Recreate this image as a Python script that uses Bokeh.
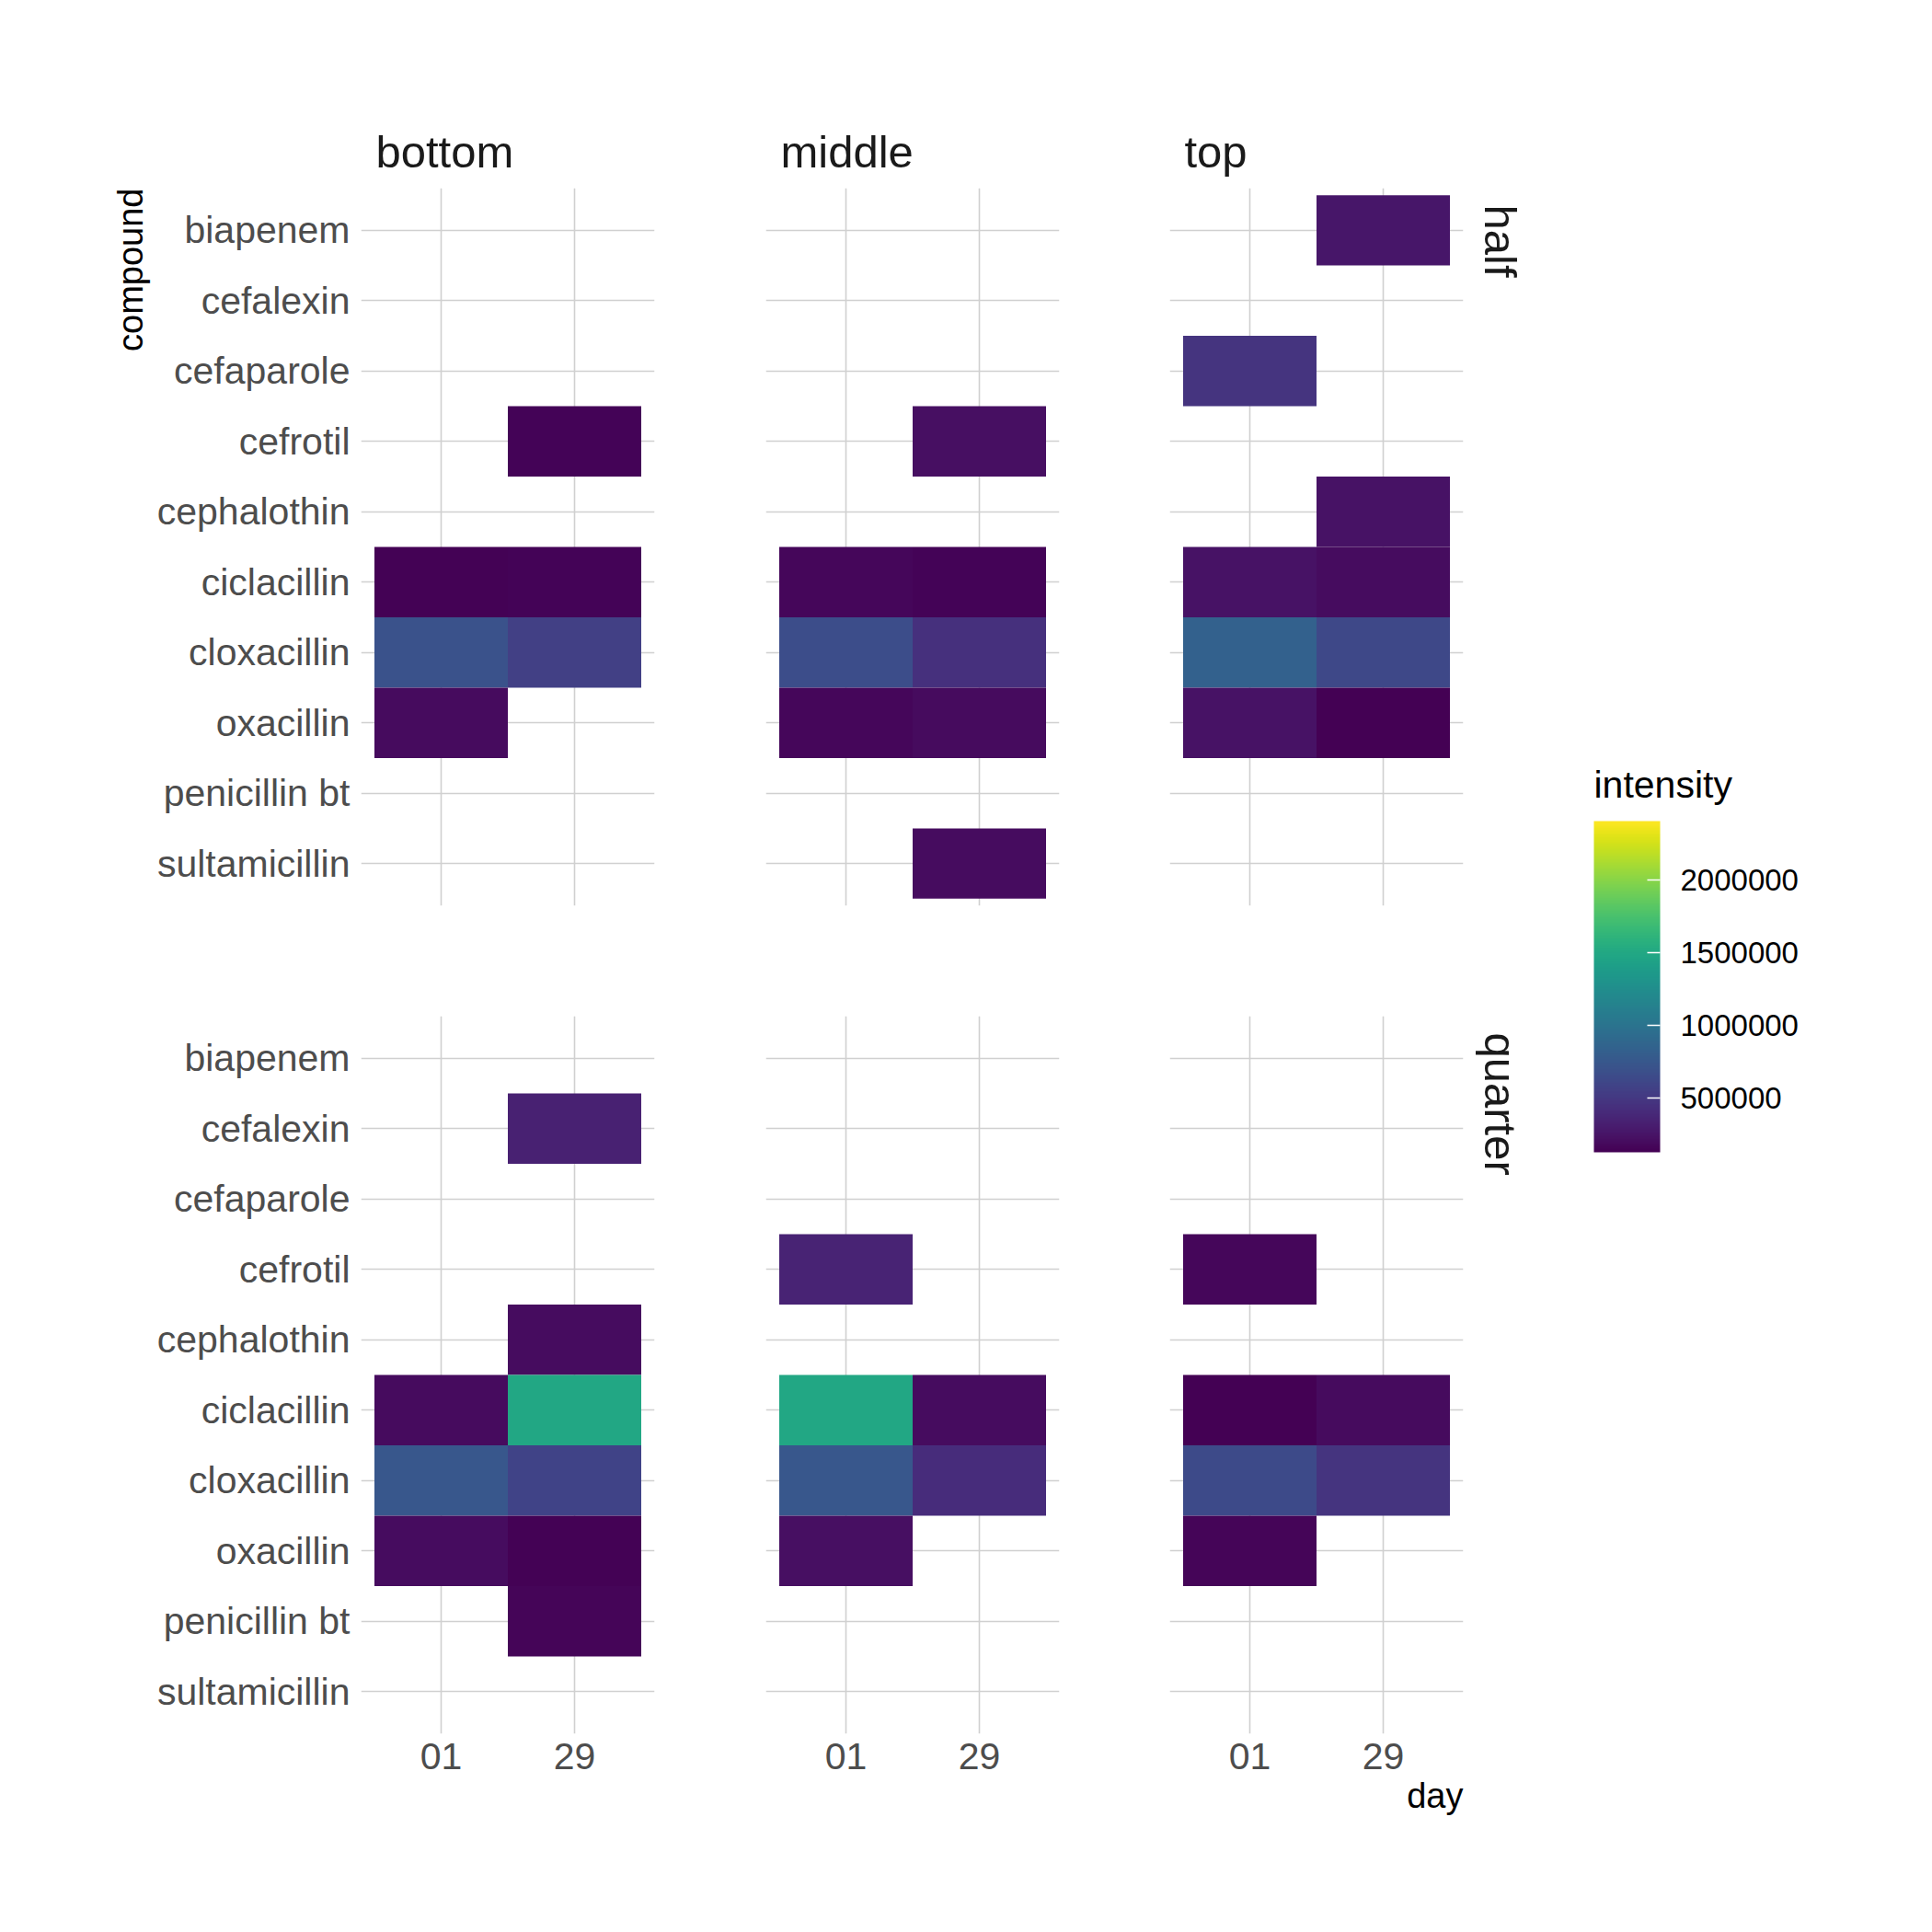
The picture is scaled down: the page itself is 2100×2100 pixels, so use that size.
from bokeh.plotting import figure
from bokeh.models import (ColumnDataSource, FactorRange, LinearColorMapper, ColorBar,
                          FixedTicker, PrintfTickFormatter, Title, Label)
from bokeh.layouts import row, column
from bokeh.palettes import Viridis256
from bokeh.embed import file_html
from bokeh.resources import INLINE

FONT = "Liberation Sans"

# ---------------- data ----------------
compounds = ["biapenem", "cefalexin", "cefaparole", "cefrotil", "cephalothin",
             "ciclacillin", "cloxacillin", "oxacillin", "penicillin bt", "sultamicillin"]
days = ["01", "29"]
positions = ["bottom", "middle", "top"]
fractions = ["half", "quarter"]

tile_fraction = (["half"] * 6 + ["half"] * 8 + ["half"] * 9 +
                 ["quarter"] * 9 + ["quarter"] * 6 + ["quarter"] * 6)
tile_position = (["bottom"] * 6 + ["middle"] * 8 + ["top"] * 9 +
                 ["bottom"] * 9 + ["middle"] * 6 + ["top"] * 6)
tile_compound = [
    # half / bottom
    "cefrotil", "ciclacillin", "ciclacillin", "cloxacillin", "cloxacillin", "oxacillin",
    # half / middle
    "cefrotil", "ciclacillin", "ciclacillin", "cloxacillin", "cloxacillin", "oxacillin", "oxacillin", "sultamicillin",
    # half / top
    "biapenem", "cefaparole", "cephalothin", "ciclacillin", "ciclacillin", "cloxacillin", "cloxacillin", "oxacillin", "oxacillin",
    # quarter / bottom
    "cefalexin", "cephalothin", "ciclacillin", "ciclacillin", "cloxacillin", "cloxacillin", "oxacillin", "oxacillin", "penicillin bt",
    # quarter / middle
    "cefrotil", "ciclacillin", "ciclacillin", "cloxacillin", "cloxacillin", "oxacillin",
    # quarter / top
    "cefrotil", "ciclacillin", "ciclacillin", "cloxacillin", "cloxacillin", "oxacillin",
]
tile_day = [
    "29", "01", "29", "01", "29", "01",
    "29", "01", "29", "01", "29", "01", "29", "29",
    "29", "01", "29", "01", "29", "01", "29", "01", "29",
    "29", "29", "01", "29", "01", "29", "01", "29", "29",
    "01", "01", "29", "01", "29", "01",
    "01", "01", "29", "01", "29", "01",
]
tile_intensity = [
    150000, 140000, 145000, 697000, 560000, 195000,
    218000, 170000, 150000, 662000, 446000, 170000, 195000, 205000,
    265000, 470000, 240000, 240000, 205000, 833000, 617000, 240000, 130000,
    335000, 205000, 195000, 1494000, 742000, 583000, 200000, 140000, 160000,
    355000, 1490000, 207000, 742000, 412000, 218000,
    170000, 127000, 195000, 640000, 468000, 160000,
]

int_low = 127000
int_high = 2405000
legend_ticks = [500000, 1000000, 1500000, 2000000]
legend_title = "intensity"

mapper = LinearColorMapper(palette=Viridis256, low=int_low, high=int_high)

# ---------------- layout geometry ----------------
FRAME_W, FRAME_H = 319, 780
col_borders = [(392, 60), (61, 60), (60, 110)]
row_borders = [(204, 60), (60, 216)]
GRID = "#D0D0D0"


def make_panel(fi, pi):
    lb, rb = col_borders[pi]
    tb, bb = row_borders[fi]
    p = figure(frame_width=FRAME_W, frame_height=FRAME_H,
               x_range=FactorRange(factors=days, range_padding=0.1, range_padding_units="absolute"),
               y_range=FactorRange(factors=compounds[::-1], range_padding=0.1, range_padding_units="absolute"),
               output_backend="svg", toolbar_location=None,
               min_border_left=lb, min_border_right=rb, min_border_top=tb, min_border_bottom=bb,
               background_fill_color="white", border_fill_color="white")
    p.outline_line_color = None

    mask = [i for i in range(len(tile_intensity))
            if tile_fraction[i] == fractions[fi] and tile_position[i] == positions[pi]]
    src = ColumnDataSource(dict(
        day=[tile_day[i] for i in mask],
        compound=[tile_compound[i] for i in mask],
        intensity=[tile_intensity[i] for i in mask],
    ))
    p.rect(x="day", y="compound", width=1, height=1, source=src,
           fill_color={"field": "intensity", "transform": mapper}, line_color=None)

    p.xgrid.grid_line_color = GRID
    p.ygrid.grid_line_color = GRID
    p.xgrid.grid_line_width = 1.6
    p.ygrid.grid_line_width = 1.6

    for ax in p.axis:
        ax.axis_line_color = None
        ax.major_tick_line_color = None
        ax.minor_tick_line_color = None
        ax.major_label_text_font = FONT
        ax.major_label_text_font_size = "41px"
        ax.major_label_text_color = "#4D4D4D"
    p.yaxis.major_label_standoff = 6
    p.xaxis.major_label_standoff = 4

    if pi != 0:
        p.yaxis.visible = False
    if fi != 1:
        p.xaxis.visible = False

    if fi == 0:
        p.title.text = positions[pi]
        p.title.align = "left"
        p.title.offset = 16
        p.title.standoff = 26
        p.title.text_font = FONT
        p.title.text_font_size = "49px"
        p.title.text_font_style = "normal"
        p.title.text_color = "#1A1A1A"
    else:
        p.title.text = ""

    if pi == 0 and fi == 0:
        p.add_layout(Title(text="compound", align="right", offset=0, standoff=10,
                           text_font=FONT, text_font_size="38px", text_font_style="normal",
                           text_color="black"), "left")
    if pi == 2:
        p.add_layout(Title(text=fractions[fi], align="left", offset=18, standoff=26,
                           text_font=FONT, text_font_size="49px", text_font_style="normal",
                           text_color="#1A1A1A"), "right")
    if pi == 2 and fi == 1:
        p.add_layout(Title(text="day", align="right", offset=0, standoff=6,
                           text_font=FONT, text_font_size="38px", text_font_style="normal",
                           text_color="black"), "below")
    return p


panels = [[make_panel(fi, pi) for pi in range(3)] for fi in range(2)]

# ---------------- legend ----------------
leg = figure(width=400, height=2100, x_axis_type=None, y_axis_type=None,
             output_backend="svg", toolbar_location=None, min_border=0,
             background_fill_color="white", border_fill_color="white")
leg.outline_line_color = None
cb = ColorBar(color_mapper=mapper, location=(32, 848), width=72, height=360, padding=0,
              ticker=FixedTicker(ticks=legend_ticks), formatter=PrintfTickFormatter(format="%d"),
              major_label_text_font=FONT, major_label_text_font_size="33px",
              major_label_text_color="black", label_standoff=22,
              major_tick_line_color="white", major_tick_line_width=1.5,
              major_tick_in=14, major_tick_out=0, minor_tick_line_color=None,
              bar_line_color=None, background_fill_color=None, border_line_color=None)
leg.add_layout(cb, "center")
leg.add_layout(Label(x=32, y=1248, x_units="screen", y_units="screen", text=legend_title,
                     text_font=FONT, text_font_size="41px", text_color="black",
                     text_baseline="alphabetic", text_align="left"))

layout = row(column(row(*panels[0]), row(*panels[1])), leg)

open("out.html", "w").write(file_html(layout, INLINE))
